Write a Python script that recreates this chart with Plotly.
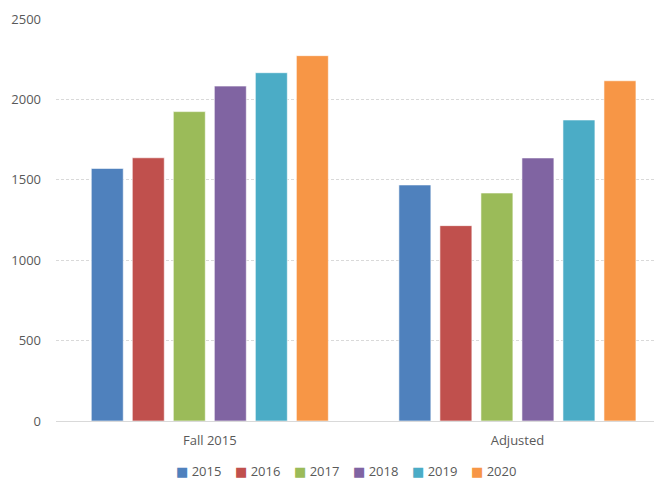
import plotly.graph_objects as go

categories = ["Fall 2015", "Adjusted"]
series_names = ["2015", "2016", "2017", "2018", "2019", "2020"]
values = {
    "2015": [1571, 1468],
    "2016": [1637, 1215],
    "2017": [1924, 1418],
    "2018": [2083, 1636],
    "2019": [2166, 1872],
    "2020": [2272, 2116],
}
colors = ["#4F81BD", "#C0504D", "#9BBB59", "#8064A2", "#4BACC6", "#F79646"]
y_ticks = [0, 500, 1000, 1500, 2000, 2500]

W, H = 654, 472  # page body has an 8px margin in the 662x480 window
ML, MT, MB = 48, 11, 59
PLOT_W = W - ML
PLOT_H = H - MT - MB

fig = go.Figure()
for name, col in zip(series_names, colors):
    fig.add_trace(go.Bar(
        x=categories, y=values[name], name=name, showlegend=False,
        marker=dict(color=col, line=dict(color="rgba(255,255,255,0.6)", width=1)),
    ))

# legend row (one entry per series, laid out left to right, centred under the plot)
leg_start_px, leg_step_px, leg_y_px = 167, 59, 463 - (H - MB)
for i, (name, col) in enumerate(zip(series_names, colors)):
    fig.add_annotation(
        x=(leg_start_px + i * leg_step_px - ML) / PLOT_W, xref="paper", xanchor="left",
        y=-leg_y_px / PLOT_H, yref="paper", yanchor="middle",
        text=f"<span style='color:{col};font-family:DejaVu Sans'>■</span> {name}",
        showarrow=False, font=dict(size=13, color="#595959"),
        borderpad=0,
    )

font_family = "Open Sans, Liberation Sans, sans-serif"
fig.update_layout(
    width=W, height=H,
    margin=dict(l=ML, r=0, t=MT, b=MB, autoexpand=False),
    paper_bgcolor="white", plot_bgcolor="white",
    barmode="group", bargap=0.20, bargroupgap=0.22,
    font=dict(family=font_family, size=13, color="#595959"),
    showlegend=False,
    xaxis=dict(range=[-0.5, 1.47], showgrid=False, showline=False, ticks="",
               automargin=False,
               tickfont=dict(size=13, color="#595959"), ticklabelstandoff=10),
    yaxis=dict(range=[0, 2500], tickvals=y_ticks, showgrid=True, automargin=False,
               gridcolor="#d9d9d9", griddash="3px,2px", gridwidth=1,
               zeroline=True, zerolinecolor="#d9d9d9", zerolinewidth=1,
               showline=False, ticks="", ticklabelstandoff=14,
               tickfont=dict(size=13, color="#595959")),
)
fig.write_html("out.html")
